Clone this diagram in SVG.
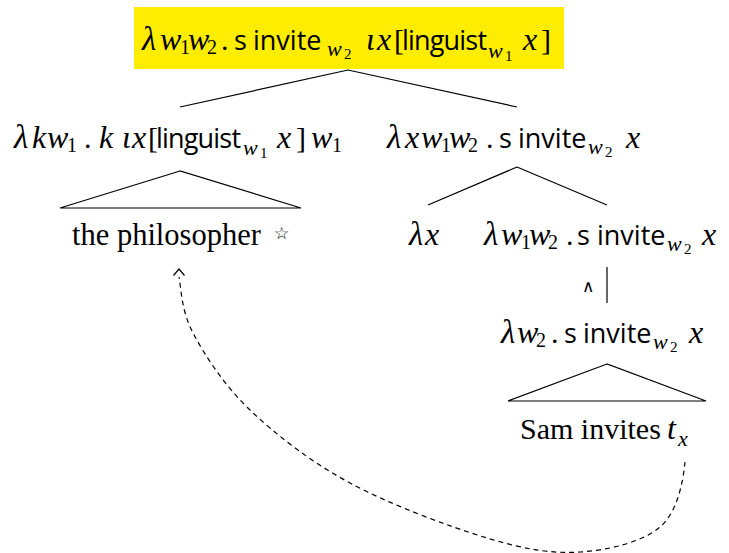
<svg xmlns="http://www.w3.org/2000/svg" width="729" height="553" viewBox="0 0 729 553">
<style>
text { fill: #000; }
.m { font-family: "Liberation Serif", serif; font-style: italic; font-size: 32px; }
.l { font-family: "Liberation Serif", serif; font-style: italic; font-size: 33px; }
.r { font-family: "Liberation Serif", serif; font-size: 30px; }
.t { font-family: "Liberation Serif", serif; font-size: 30.5px; }
.s { font-family: "Open Sans", "Liberation Sans", sans-serif; font-size: 27px; }
.d { font-family: "Liberation Serif", serif; font-size: 20px; }
.sw { font-family: "Liberation Serif", serif; font-style: italic; font-size: 22px; }
.sd { font-family: "Liberation Serif", serif; font-size: 15px; }
.star { font-family: "DejaVu Sans", sans-serif; font-size: 17px; }
.edge { stroke: #000; stroke-width: 1.2; fill: none; }
.dash { stroke: #000; stroke-width: 1.2; fill: none; stroke-dasharray: 5 4; }
</style>

<g id="connectors">
  <path class="edge" d="M348,70 L180,107 M348,70 L517,107"/>
  <path class="edge" d="M180,171 L60,208 L301,208 Z"/>
  <path class="edge" d="M517,167 L428,205 M517,167 L607,205"/>
  <path class="edge" d="M607,267 L607,303"/>
  <path class="edge" d="M607,364 L508,401 L706,401 Z"/>
  <path class="dash" d="M685,462 C683,482 677.5,512 660,527 C642.5,542 608.8,550.2 580,552 C551.2,553.8 525.3,549.5 487,538 C448.7,526.5 389.5,504.3 350,483 C310.5,461.7 276.2,435 250,410 C223.8,385 204.8,355.2 193,333 C181.2,310.8 181,287 179,277"/>
  <path class="edge" d="M173.5,275.5 L179,269 L184.5,275.5"/>
</g>

<g id="root">
  <rect x="134" y="7" width="430" height="62" fill="#FFED00"/>
  <text>
    <tspan class="l" x="142" y="50">λ</tspan><tspan class="m" x="160" y="50">w</tspan><tspan class="d" x="180" y="54">1</tspan><tspan class="m" x="188" y="50">w</tspan><tspan class="d" x="207" y="54">2</tspan><tspan class="r" x="221" y="50">.</tspan><tspan class="s" x="234" y="50">s</tspan><tspan class="s" x="253" y="50">invite</tspan><tspan class="sw" x="327" y="56">w</tspan><tspan class="sd" x="344" y="59">2</tspan><tspan class="m" x="366" y="50">ι</tspan><tspan class="m" x="377" y="50">x</tspan><tspan class="r" x="394" y="50">[</tspan><tspan class="s" x="402" y="50" textLength="85" lengthAdjust="spacing">linguist</tspan><tspan class="sw" x="488" y="58">w</tspan><tspan class="sd" x="505" y="61">1</tspan><tspan class="m" x="523" y="50">x</tspan><tspan class="r" x="541" y="50">]</tspan>
  </text>
</g>

<g id="left">
  <text>
    <tspan class="l" x="14" y="148">λ</tspan><tspan class="m" x="32" y="148">k</tspan><tspan class="m" x="47" y="148">w</tspan><tspan class="d" x="67" y="152">1</tspan><tspan class="r" x="84" y="148">.</tspan><tspan class="m" x="99" y="148">k</tspan><tspan class="m" x="122" y="148">ι</tspan><tspan class="m" x="132" y="148">x</tspan><tspan class="r" x="148" y="148">[</tspan><tspan class="s" x="156" y="148" textLength="85" lengthAdjust="spacing">linguist</tspan><tspan class="sw" x="243" y="155">w</tspan><tspan class="sd" x="260" y="158">1</tspan><tspan class="m" x="277" y="148">x</tspan><tspan class="r" x="296" y="148">]</tspan><tspan class="m" x="311" y="148">w</tspan><tspan class="d" x="332" y="152">1</tspan>
  </text>
</g>

<g id="right">
  <text>
    <tspan class="l" x="387" y="148">λ</tspan><tspan class="m" x="405" y="148">x</tspan><tspan class="m" x="421" y="148">w</tspan><tspan class="d" x="441" y="152">1</tspan><tspan class="m" x="449" y="148">w</tspan><tspan class="d" x="468" y="152">2</tspan><tspan class="r" x="486" y="148">.</tspan><tspan class="s" x="499" y="148">s</tspan><tspan class="s" x="518" y="148">invite</tspan><tspan class="sw" x="588" y="154">w</tspan><tspan class="sd" x="605" y="157">2</tspan><tspan class="m" x="626" y="148">x</tspan>
  </text>
</g>

<g id="philosopher">
  <text>
    <tspan class="t" x="72" y="245">the philosopher</tspan><tspan class="star" x="274" y="239">☆</tspan>
  </text>
</g>

<g id="lambda-x">
  <text><tspan class="l" x="409" y="245">λ</tspan><tspan class="m" x="425" y="245">x</tspan></text>
</g>

<g id="right-right">
  <text>
    <tspan class="l" x="484" y="245">λ</tspan><tspan class="m" x="501" y="245">w</tspan><tspan class="d" x="521" y="249">1</tspan><tspan class="m" x="529" y="245">w</tspan><tspan class="d" x="548" y="249">2</tspan><tspan class="r" x="566" y="245">.</tspan><tspan class="s" x="577" y="245">s</tspan><tspan class="s" x="597" y="245">invite</tspan><tspan class="sw" x="667" y="251">w</tspan><tspan class="sd" x="684" y="254">2</tspan><tspan class="m" x="702" y="245">x</tspan>
  </text>
</g>

<g id="intension-label">
  <text x="582" y="292" style="font-family: 'DejaVu Sans', sans-serif; font-size: 17px;">∧</text>
</g>

<g id="lower">
  <text>
    <tspan class="l" x="501" y="343">λ</tspan><tspan class="m" x="517" y="343">w</tspan><tspan class="d" x="536" y="347">2</tspan><tspan class="r" x="551" y="343">.</tspan><tspan class="s" x="564" y="343">s</tspan><tspan class="s" x="583" y="343">invite</tspan><tspan class="sw" x="653" y="349">w</tspan><tspan class="sd" x="670" y="352">2</tspan><tspan class="m" x="689" y="343">x</tspan>
  </text>
</g>

<g id="sam">
  <text>
    <tspan class="r" x="520" y="439">Sam invites</tspan><tspan class="m" x="667" y="439">t</tspan><tspan class="sw" x="678" y="446">x</tspan>
  </text>
</g>
</svg>
